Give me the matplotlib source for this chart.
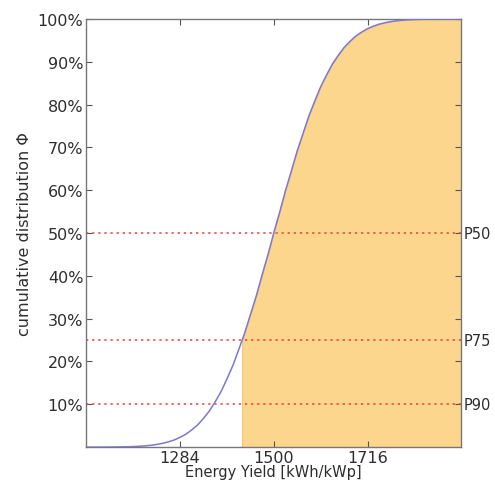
import numpy as np
import matplotlib.pyplot as plt
from matplotlib.ticker import FixedLocator, FuncFormatter

# energy yield [kWh/kWp] and cumulative share
yield_x = [1068, 1082, 1095, 1109, 1122, 1136, 1149, 1163, 1176, 1190, 1203,
           1217, 1230, 1244, 1257, 1271, 1284, 1298, 1311, 1325, 1338, 1352,
           1365, 1379, 1392, 1406, 1419, 1433, 1446, 1460, 1473, 1487, 1500,
           1514, 1527, 1541, 1554, 1568, 1581, 1595, 1608, 1622, 1635, 1649,
           1662, 1676, 1689, 1703, 1716, 1730, 1743, 1757, 1770, 1784, 1797,
           1811, 1824, 1838, 1851, 1865, 1878, 1892, 1905, 1919, 1932]
cdf_y = [0.0000, 0.0001, 0.0001, 0.0001, 0.0002, 0.0004, 0.0006, 0.0009,
         0.0013, 0.0020, 0.0030, 0.0043, 0.0062, 0.0088, 0.0122, 0.0168,
         0.0228, 0.0304, 0.0401, 0.0521, 0.0668, 0.0846, 0.1056, 0.1303,
         0.1587, 0.1908, 0.2266, 0.2660, 0.3085, 0.3538, 0.4013, 0.4503,
         0.5000, 0.5497, 0.5987, 0.6462, 0.6915, 0.7340, 0.7734, 0.8092,
         0.8413, 0.8697, 0.8944, 0.9154, 0.9332, 0.9479, 0.9599, 0.9696,
         0.9772, 0.9832, 0.9878, 0.9912, 0.9938, 0.9957, 0.9970, 0.9980,
         0.9987, 0.9991, 0.9994, 0.9996, 0.9998, 0.9999, 0.9999, 0.9999, 1.0000]

xticks = [1284, 1500, 1716]
yticks = [0.1, 0.2, 0.3, 0.4, 0.5, 0.6, 0.7, 0.8, 0.9, 1.0]
p_levels = [0.5, 0.25, 0.1]
p_names = ['P50', 'P75', 'P90']
p75_x = 1427  # where the curve crosses 25 %

txt = '#2e2e2e'
fig = plt.figure(figsize=(4.95, 4.85), dpi=100)
ax = fig.add_axes([0.174, 0.076, 0.758, 0.883])

x = np.array(yield_x)
y = np.array(cdf_y)
keep = x > p75_x
fx = np.concatenate([[p75_x], x[keep]])
fy = np.concatenate([[0.25], y[keep]])
ax.fill_between(fx, 0, fy, color='#fdd68e', edgecolor='#f5c878', lw=0.8, zorder=1)
ax.plot(x, y, color='#7a78d6', lw=1.1, zorder=3)

for lev, name in zip(p_levels, p_names):
    ax.axhline(lev, color='#e8413c', ls=(0, (1.5, 2.5)), lw=1.1, zorder=2)
    ax.text(1.005, lev, name, transform=ax.get_yaxis_transform(),
            va='center', ha='left', fontsize=10.5, color=txt)

ax.set_xlim(1068, 1932)
ax.set_ylim(0, 1)
ax.xaxis.set_major_locator(FixedLocator(xticks))
ax.yaxis.set_major_locator(FixedLocator(yticks))
ax.yaxis.set_major_formatter(FuncFormatter(lambda v, p: '%d%%' % round(v * 100)))
ax.tick_params(direction='in', length=4, colors='#555555', labelcolor=txt,
               labelsize=11.5, top=True, right=True, pad=2)
for s in ax.spines.values():
    s.set_color('#777777')
    s.set_linewidth(1.0)

ax.set_xlabel('Energy Yield [kWh/kWp]', fontsize=10.5, color=txt, labelpad=-1)
ax.set_ylabel('cumulative distribution \u03a6', fontsize=11.5, color=txt, labelpad=4)

fig.savefig('out.png', dpi=100)
